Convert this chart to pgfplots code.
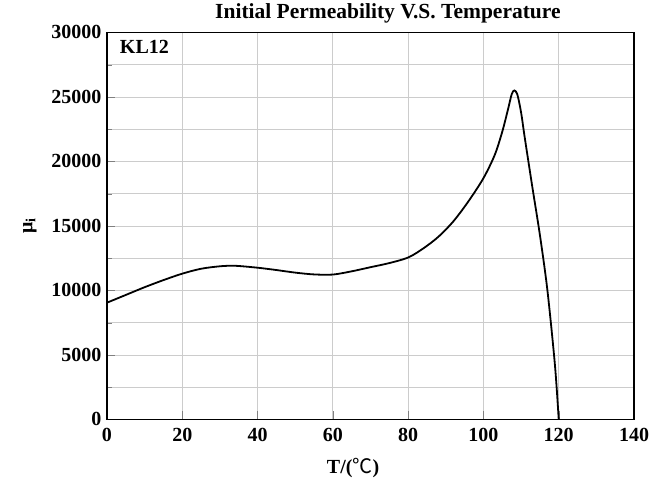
\documentclass[border=0pt]{standalone}
\usepackage{fontspec}
\setmainfont{Liberation Serif}
\newfontfamily\cjk{Noto Sans CJK SC}
\usepackage{pgfplots}
\pgfplotsset{compat=1.18}

\pgfplotstableread{
T mu
0 9050
5 9650
10 10250
15 10800
20 11300
25 11680
30 11870
34 11910
40 11760
45 11580
50 11380
55 11240
60 11230
65 11480
70 11800
75 12120
80 12550
84 13250
88 14150
92 15350
96 16900
100 18700
103 20500
105 22300
106.5 24000
107.5 25200
108.2 25500
109 25200
110 23800
111 21800
113 18000
115 14300
117 10000
119 4200
120 0
}\kltable

\begin{document}
\begin{tikzpicture}
\begin{axis}[
    scale only axis,
    width=527pt, height=387pt,
    xmin=0, xmax=140, ymin=0, ymax=30000,
    xtick={0,20,...,140},
    ytick={0,5000,...,30000},
    scaled y ticks=false,
    minor y tick num=1,
    axis line style={line width=1.2pt},
    tick align=inside,
    tick pos=left,
    major tick length=8pt,
    minor tick length=5pt,
    grid=both,
    major grid style={gray!40, line width=0.8pt},
    minor grid style={gray!40, line width=0.8pt},
    xminorgrids=false,
    /pgf/number format/assume math mode=true,
    /pgf/number format/1000 sep={},
    ticklabel style={font=\bfseries\fontsize{20}{20}\selectfont},
    xticklabel style={yshift=-5pt},
    yticklabel style={xshift=-2pt},
    label style={font=\bfseries\fontsize{20}{20}\selectfont},
    xlabel={T/({\cjk\mdseries ℃})},
    xlabel style={at={(ticklabel cs:0.467)}, anchor=near ticklabel, yshift=-10pt},
    ylabel={μ\textsubscript{i}},
    ylabel style={yshift=8pt},
    title={Initial Permeability V.S. Temperature},
    title style={font=\bfseries\fontsize{21.5}{21.5}\selectfont, at={(0.533,1)}, anchor=south},
]
\addplot[black, line width=1.8pt, smooth, tension=0.5] table[x=T, y=mu] {\kltable};
\node[anchor=west, font=\bfseries\fontsize{20}{20}\selectfont] at (axis cs:2.5,28900) {KL12};
\end{axis}
\path (-107pt,-67pt) rectangle (546pt,419pt);
\end{tikzpicture}
\end{document}
